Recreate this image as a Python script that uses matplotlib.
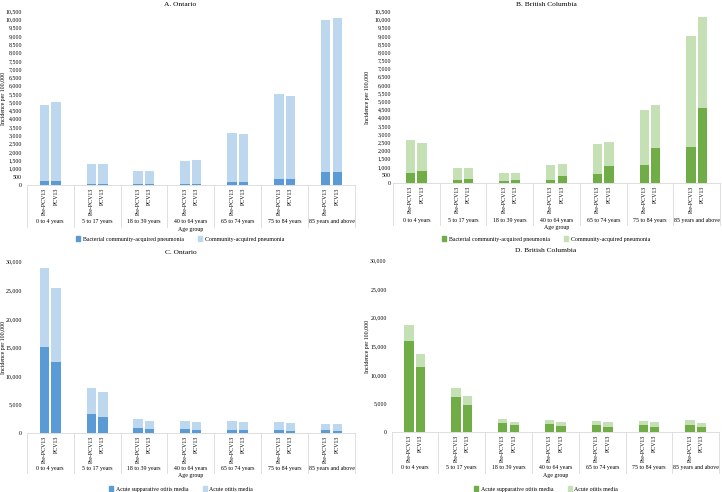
import numpy as np
import matplotlib
matplotlib.use("Agg")
import matplotlib.pyplot as plt
from matplotlib.lines import Line2D
from matplotlib.patches import Patch

plt.rcParams['font.family'] = ['Liberation Serif', 'DejaVu Serif']

age_groups = ['0 to 4 years', '5 to 17 years', '18 to 39 years', '40 to 64 years',
              '65 to 74 years', '75 to 84 years', '85 years and above']
periods = ['Pre-PCV13', 'PCV13']

# pneumonia, Ontario  (pairs: pre, post)
on_cap = [4850, 5000, 1290, 1250, 860, 820, 1470, 1530, 3170, 3100, 5520, 5380, 9980, 10120]
on_bcap = [260, 230, 70, 70, 60, 60, 70, 70, 190, 170, 380, 360, 780, 800]
# pneumonia, British Columbia
bc_cap = [2650, 2450, 950, 950, 640, 630, 1130, 1190, 2420, 2540, 4500, 4790, 9000, 10180]
bc_bcap = [610, 740, 200, 270, 140, 200, 210, 450, 550, 1070, 1090, 2130, 2240, 4590]
# otitis media, Ontario
on_aom = [28900, 25400, 7950, 7250, 2450, 2200, 2200, 2030, 2100, 1920, 1980, 1800, 1690, 1570]
on_asom = [15100, 12450, 3440, 2900, 930, 760, 760, 590, 640, 520, 580, 470, 520, 410]
# otitis media, British Columbia
bc_aom = [18700, 13650, 7700, 6300, 2280, 1750, 2100, 1700, 1980, 1750, 1980, 1700, 2040, 1580]
bc_asom = [15930, 11320, 6130, 4730, 1630, 1170, 1340, 990, 1170, 930, 1220, 930, 1220, 880]

W, H = 722, 492
blue = ('#5b9bd5', '#bdd7ee')
green = ('#70ad47', '#c5e0b4')
fs = 4.2


def draw_panel(fig, rect, title, title_xy, dark, light, cols, names, ymax, ystep,
               ylab_x, cat_drop, legend_y, tick_pad):
    l, t, r, b = rect
    ax = fig.add_axes([l / W, 1 - b / H, (r - l) / W, (b - t) / H])
    ng = len(age_groups)
    centers = np.arange(ng) + 0.5
    xs = np.ravel(np.column_stack([centers - 0.123, centers + 0.123]))
    ax.bar(xs, light, width=0.2, color=cols[1], zorder=2)
    ax.bar(xs, dark, width=0.2, color=cols[0], zorder=3)
    ax.set_xlim(0, ng)
    ax.set_ylim(0, ymax)
    ax.set_yticks(np.arange(0, ymax + 1, ystep))
    ax.set_yticklabels([f"{v:,}" for v in np.arange(0, ymax + 1, ystep)])
    ax.set_xticks(xs)
    ax.set_xticklabels(periods * ng, rotation=90, va='top')
    ax.tick_params(axis='both', length=0, labelsize=fs)
    ax.tick_params(axis='y', pad=tick_pad)
    ax.tick_params(axis='x', pad=2)
    for s in ['top', 'right', 'left']:
        ax.spines[s].set_visible(False)
    ax.spines['bottom'].set_color('#d9d9d9')
    ax.spines['bottom'].set_linewidth(0.6)

    ph = b - t
    drop = cat_drop / ph
    trans = ax.get_xaxis_transform()
    for i in range(ng + 1):
        ax.add_line(Line2D([i, i], [0, -drop], transform=trans, color='#d9d9d9',
                           lw=0.6, clip_on=False))
    for i, g in enumerate(age_groups):
        ax.text(i + 0.5, -(cat_drop - 5) / ph, g, transform=trans, ha='center',
                va='center', fontsize=fs)
    ax.text(0.5 * ng, -(cat_drop + 2) / ph, 'Age group', transform=trans,
            ha='center', va='center', fontsize=fs)
    fig.text(ylab_x / W, 1 - (t + b) / 2 / H, 'Incidence per 100,000', rotation=90,
             ha='center', va='center', fontsize=fs)
    fig.text(title_xy[0] / W, 1 - title_xy[1] / H, title, ha='center', va='center',
             fontsize=fs + 1.2)
    handles = [Patch(color=cols[0]), Patch(color=cols[1])]
    fig.legend(handles, names, loc='center', bbox_to_anchor=(title_xy[0] / W, 1 - legend_y / H),
               ncol=2, frameon=False, fontsize=fs, handlelength=0.7, handleheight=0.7,
               handletextpad=0.4, columnspacing=2.5)
    return ax


fig = plt.figure(figsize=(W / 100, H / 100), dpi=100)

pn_names = ['Bacterial community-acquired pneumonia', 'Community-acquired pneumonia']
om_names = ['Acute supparative otitis media', 'Acute otitis media']

draw_panel(fig, (26.7, 11.3, 355, 185), 'A. Ontario', (180, 4), on_bcap, on_cap, blue,
           pn_names, 10500, 500, 4, 42, 239, 3.5)
draw_panel(fig, (393, 11.3, 720, 183.3), 'B. British Columbia', (546, 4), bc_bcap, bc_cap, green,
           pn_names, 10500, 500, 368, 42, 239, 1.5)
draw_panel(fig, (26.7, 261.7, 355, 433.3), 'C. Ontario', (181, 252), on_asom, on_aom, blue,
           om_names, 30000, 5000, 4, 40, 489, 3.5)
draw_panel(fig, (391.5, 260.7, 719.3, 432), 'D. British Columbia', (546, 251), bc_asom, bc_aom, green,
           om_names, 30000, 5000, 367, 41, 489, 3.5)

plt.savefig('out.png', dpi=100)
